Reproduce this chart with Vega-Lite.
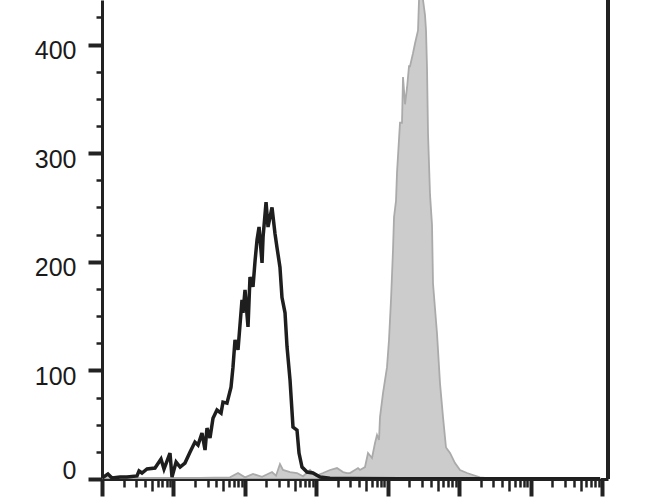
{
  "$schema": "https://vega.github.io/schema/vega-lite/v6.json",
  "width": 506,
  "height": 479,
  "autosize": {"type": "none"},
  "padding": {"left": 102, "top": 0, "right": 62, "bottom": 21},
  "background": "white",
  "config": {"view": {"stroke": null}},
  "data": {"values": [
    {"s":"stained","x":1,"c":0.9},{"s":"stained","x":1.21,"c":4.6},{"s":"stained","x":1.38,"c":0.9},{"s":"stained","x":1.79,"c":1.8},{"s":"stained","x":2.24,"c":1.8},{"s":"stained","x":3.09,"c":2.8},{"s":"stained","x":3.3,"c":7.4},{"s":"stained","x":3.63,"c":5.5},{"s":"stained","x":4.27,"c":9.2},{"s":"stained","x":5.52,"c":10.1},{"s":"stained","x":6.7,"c":18.4},{"s":"stained","x":7.38,"c":9.2},{"s":"stained","x":8.95,"c":23.9},{"s":"stained","x":9.55,"c":1.8},{"s":"stained","x":10.9,"c":15.6},{"s":"stained","x":12.4,"c":11},{"s":"stained","x":14.5,"c":14.7},{"s":"stained","x":17.1,"c":24.8},{"s":"stained","x":20,"c":34},{"s":"stained","x":22.1,"c":31.3},{"s":"stained","x":25.1,"c":42.3},{"s":"stained","x":27.7,"c":26.7},{"s":"stained","x":29.5,"c":46.9},{"s":"stained","x":32.5,"c":37.7},{"s":"stained","x":35.8,"c":56},{"s":"stained","x":40.7,"c":63.5},{"s":"stained","x":46.4,"c":60.7},{"s":"stained","x":49.4,"c":70.8},{"s":"stained","x":56.2,"c":69.9},{"s":"stained","x":64,"c":84.6},{"s":"stained","x":68.2,"c":103},{"s":"stained","x":72.8,"c":128},{"s":"stained","x":80.2,"c":119},{"s":"stained","x":91.2,"c":165},{"s":"stained","x":94.2,"c":153},{"s":"stained","x":100.5,"c":174},{"s":"stained","x":110.7,"c":140},{"s":"stained","x":118,"c":186},{"s":"stained","x":130,"c":177},{"s":"stained","x":139,"c":201},{"s":"stained","x":148,"c":220},{"s":"stained","x":158,"c":232},{"s":"stained","x":174,"c":199},{"s":"stained","x":180,"c":223},{"s":"stained","x":198,"c":255},{"s":"stained","x":211,"c":232},{"s":"stained","x":240,"c":250},{"s":"stained","x":264,"c":226},{"s":"stained","x":282,"c":213},{"s":"stained","x":310,"c":195},{"s":"stained","x":331,"c":167},{"s":"stained","x":365,"c":153},{"s":"stained","x":389,"c":122},{"s":"stained","x":429,"c":91},{"s":"stained","x":472,"c":47.8},{"s":"stained","x":537,"c":45},{"s":"stained","x":573,"c":23.9},{"s":"stained","x":631,"c":11},{"s":"stained","x":741,"c":6.4},{"s":"stained","x":899,"c":5.5},{"s":"stained","x":1127,"c":1.8},{"s":"stained","x":1556,"c":0.8},{"s":"stained","x":2965,"c":0.5},{"s":"stained","x":14860,"c":0.3},{"s":"stained","x":74470,"c":0.2},{"s":"stained","x":373000,"c":0.2},{"s":"stained","x":1870000,"c":0.2},{"s":"stained","x":9380000,"c":0.2},
    {"s":"control","x":1,"c":0.5},{"s":"control","x":4.7,"c":1},{"s":"control","x":23.5,"c":1},{"s":"control","x":61.9,"c":1.5},{"s":"control","x":80.2,"c":5.5},{"s":"control","x":100.5,"c":1.5},{"s":"control","x":130,"c":4.6},{"s":"control","x":174,"c":2},{"s":"control","x":240,"c":6.4},{"s":"control","x":273,"c":3},{"s":"control","x":310,"c":13.8},{"s":"control","x":342,"c":8.3},{"s":"control","x":429,"c":6.4},{"s":"control","x":537,"c":5.5},{"s":"control","x":652,"c":2.5},{"s":"control","x":817,"c":8.3},{"s":"control","x":991,"c":3},{"s":"control","x":1242,"c":5.5},{"s":"control","x":1556,"c":8.3},{"s":"control","x":1950,"c":10.1},{"s":"control","x":2366,"c":6.4},{"s":"control","x":2692,"c":5.5},{"s":"control","x":2965,"c":5.5},{"s":"control","x":3837,"c":10.1},{"s":"control","x":4093,"c":8.3},{"s":"control","x":4808,"c":11},{"s":"control","x":5297,"c":23.9},{"s":"control","x":6026,"c":19.3},{"s":"control","x":6637,"c":33.1},{"s":"control","x":7080,"c":40.5},{"s":"control","x":7551,"c":35.9},{"s":"control","x":7798,"c":57},{"s":"control","x":8590,"c":79},{"s":"control","x":9772,"c":103},{"s":"control","x":10420,"c":128},{"s":"control","x":11120,"c":165},{"s":"control","x":11860,"c":211},{"s":"control","x":12250,"c":241},{"s":"control","x":13060,"c":256},{"s":"control","x":13490,"c":282},{"s":"control","x":14860,"c":328},{"s":"control","x":15850,"c":328},{"s":"control","x":16370,"c":370},{"s":"control","x":17460,"c":345},{"s":"control","x":18620,"c":360},{"s":"control","x":19860,"c":380},{"s":"control","x":20510,"c":380},{"s":"control","x":22590,"c":392},{"s":"control","x":24100,"c":401},{"s":"control","x":26550,"c":413},{"s":"control","x":27420,"c":441},{"s":"control","x":28310,"c":452},{"s":"control","x":30200,"c":446},{"s":"control","x":31190,"c":441},{"s":"control","x":33270,"c":427},{"s":"control","x":34360,"c":413},{"s":"control","x":35480,"c":379},{"s":"control","x":36640,"c":318},{"s":"control","x":39080,"c":262},{"s":"control","x":41690,"c":234},{"s":"control","x":43050,"c":180},{"s":"control","x":48980,"c":134},{"s":"control","x":53950,"c":88},{"s":"control","x":59430,"c":57},{"s":"control","x":65460,"c":29},{"s":"control","x":74470,"c":24},{"s":"control","x":87500,"c":14.7},{"s":"control","x":102800,"c":8.3},{"s":"control","x":128800,"c":5.5},{"s":"control","x":156300,"c":3.7},{"s":"control","x":195900,"c":1.5},{"s":"control","x":270400,"c":0.5},{"s":"control","x":373300,"c":0.3},{"s":"control","x":9380000,"c":0.3}
  ]},
  "encoding": {
    "x": {
      "field": "x", "type": "quantitative",
      "scale": {"type": "log", "domain": [1, 12130000], "nice": false},
      "axis": {
        "title": null, "labels": false, "grid": false,
        "values": [1,2,3,4,5,6,7,8,9,10,20,30,40,50,60,70,80,90,100,200,300,400,500,600,700,800,900,1000,2000,3000,4000,5000,6000,7000,8000,9000,10000,20000,30000,40000,50000,60000,70000,80000,90000,100000,200000,300000,400000,500000,600000,700000,800000,900000,1000000,2000000,3000000,4000000,5000000,6000000,7000000,8000000,9000000,10000000],
        "domainColor": "#222222", "domainWidth": 3,
        "tickColor": "#222222",
        "tickSize": {"condition": [
          {"test": "abs(log(datum.value)/LN10 - round(log(datum.value)/LN10)) < 0.001", "value": 17},
          {"test": "abs(datum.value / pow(10, floor(log(datum.value)/LN10 + 0.001)) - 5) < 0.01", "value": 12}
        ], "value": 8},
        "tickWidth": {"condition": {"test": "abs(log(datum.value)/LN10 - round(log(datum.value)/LN10)) < 0.001", "value": 4}, "value": 2.5}
      }
    },
    "y": {
      "field": "c", "type": "quantitative",
      "scale": {"domain": [0, 441], "nice": false, "zero": true},
      "axis": {
        "title": null, "grid": false,
        "values": [0,25,50,75,100,125,150,175,200,225,250,275,300,325,350,375,400,425],
        "labelExpr": "datum.value % 100 == 0 ? datum.label : ''",
        "labelFont": "Liberation Sans", "labelFontSize": 25, "labelColor": "#1a1a1a",
        "labelPadding": 12,
        "labelOffset": {"condition": {"test": "datum.value == 0", "value": -9}, "value": 6},
        "domainColor": "#222222", "domainWidth": 3,
        "tickColor": "#222222",
        "tickSize": {"condition": {"test": "datum.value % 100 == 0", "value": 14}, "value": 6},
        "tickWidth": {"condition": {"test": "datum.value % 100 == 0", "value": 4}, "value": 2.5}
      }
    }
  },
  "layer": [
    {
      "transform": [{"filter": "datum.s == 'control'"}],
      "mark": {"type": "area", "fill": "#cccccc", "stroke": "#aaaaaa", "strokeWidth": 1.8, "clip": true}
    },
    {
      "transform": [{"filter": "datum.s == 'stained'"}],
      "mark": {"type": "line", "color": "#1e1e1e", "strokeWidth": 3.5, "strokeJoin": "miter", "clip": true}
    },
    {
      "mark": {"type": "rule", "color": "#222222", "strokeWidth": 2.5},
      "encoding": {"x": {"datum": 12130000}, "y": null}
    }
  ]
}
